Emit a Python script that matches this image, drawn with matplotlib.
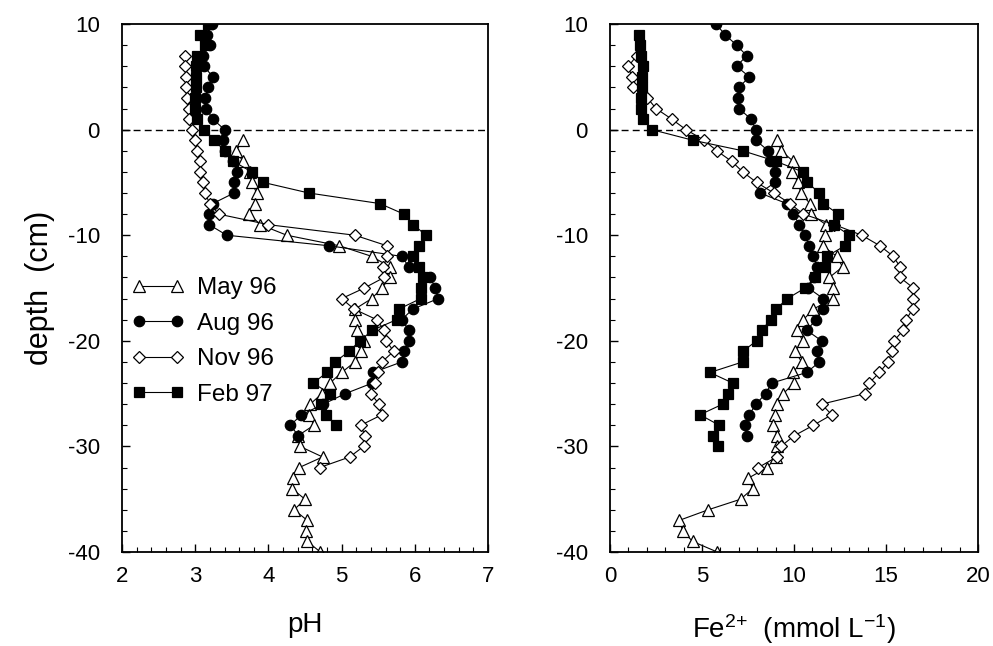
import matplotlib
matplotlib.use("Agg")
import matplotlib.pyplot as plt
from matplotlib.ticker import MultipleLocator

plt.rcParams['font.family'] = ['Liberation Sans', 'DejaVu Sans']
plt.rcParams['mathtext.default'] = 'regular'
plt.rcParams['axes.unicode_minus'] = False

# depth (cm) of each sample, per campaign
depth_may = [-1, -2, -3, -4, -5, -6, -7, -8, -9, -10, -11, -12, -13, -14, -15, -16, -17, -18, -19, -20,
             -21, -22, -23, -24, -25, -26, -27, -28, -29, -30, -31, -32, -33, -34, -35, -36, -37, -38, -39, -40]
depth_aug = [10, 9, 8, 7, 6, 5, 4, 3, 2, 1, 0, -1, -2, -3, -4, -5, -6, -7, -8, -9,
             -10, -11, -12, -13, -14, -15, -16, -17, -18, -19, -20, -21, -22, -23, -24, -25, -26, -27, -28, -29]
depth_nov = [7, 6, 5, 4, 3, 2, 1, 0, -1, -2, -3, -4, -5, -6, -7, -8, -9, -10, -11, -12,
             -13, -14, -15, -16, -17, -18, -19, -20, -21, -22, -23, -24, -25, -26, -27, -28, -29, -30, -31, -32]
depth_feb_ph = [10, 9, 8, 7, 6, 5, 4, 3, 2, 1, 0, -1, -2, -3, -4, -5, -6, -7, -8, -9,
                -10, -11, -12, -13, -14, -15, -16, -17, -18, -19, -20, -21, -22, -23, -24, -25, -26, -27, -28]
depth_feb_fe = [9, 8, 7, 6, 5, 4, 3, 2, 1, 0, -1, -2, -3, -4, -5, -6, -7, -8, -9, -10,
                -11, -12, -13, -14, -15, -16, -17, -18, -19, -20, -21, -22, -23, -24, -25, -26, -27, -28, -29, -30]

# pH
ph_may = [3.65, 3.56, 3.65, 3.75, 3.77, 3.84, 3.82, 3.74, 3.89, 4.25, 4.97, 5.41, 5.66, 5.66, 5.55, 5.41,
          5.18, 5.18, 5.21, 5.30, 5.27, 5.18, 5.00, 4.84, 4.73, 4.57, 4.56, 4.62, 4.40, 4.43, 4.74, 4.42,
          4.33, 4.32, 4.50, 4.35, 4.53, 4.51, 4.53, 4.71]
ph_aug = [3.23, 3.16, 3.20, 3.11, 3.12, 3.24, 3.18, 3.13, 3.15, 3.24, 3.40, 3.38, 3.41, 3.52, 3.57, 3.53,
          3.53, 3.24, 3.19, 3.19, 3.43, 4.83, 5.82, 5.92, 6.21, 6.28, 6.32, 5.97, 5.82, 5.92, 5.92, 5.85,
          5.82, 5.43, 5.42, 5.05, 4.75, 4.45, 4.30, 4.41]
ph_nov = [2.86, 2.86, 2.88, 2.87, 2.89, 2.91, 2.92, 2.95, 3.00, 3.03, 3.06, 3.07, 3.10, 3.13, 3.20, 3.32,
          4.00, 5.18, 5.62, 5.62, 5.57, 5.58, 5.31, 5.00, 5.17, 5.48, 5.58, 5.61, 5.71, 5.55, 5.50, 5.45,
          5.40, 5.51, 5.55, 5.26, 5.32, 5.30, 5.11, 4.70]
ph_feb = [3.17, 3.07, 3.13, 3.03, 3.01, 3.01, 3.01, 3.00, 3.00, 3.02, 3.12, 3.26, 3.40, 3.52, 3.77, 3.93,
          4.55, 5.52, 5.85, 5.98, 6.15, 6.06, 5.98, 6.05, 6.11, 6.09, 6.08, 5.78, 5.75, 5.42, 5.25, 5.10,
          4.91, 4.80, 4.61, 4.84, 4.72, 4.79, 4.92]

# Fe2+ (mmol/L)
fe_may = [9.09, 9.30, 9.96, 9.87, 10.24, 10.36, 10.87, 10.91, 11.74, 11.68, 11.56, 12.32, 12.64, 11.92,
          12.14, 12.10, 11.05, 10.51, 10.18, 10.47, 10.05, 10.42, 9.93, 10.00, 9.42, 9.09, 8.97, 8.88,
          9.09, 9.09, 9.02, 8.55, 7.52, 7.75, 7.10, 5.34, 3.77, 3.95, 4.49, 5.83]
fe_aug = [5.76, 6.25, 6.88, 7.43, 6.88, 7.57, 7.01, 6.97, 7.01, 7.66, 7.92, 7.92, 8.60, 8.70, 8.97, 8.97,
          8.15, 9.60, 9.96, 10.29, 10.60, 10.83, 11.05, 11.27, 11.09, 10.78, 11.59, 11.59, 11.20, 10.69,
          11.50, 11.23, 11.38, 10.69, 8.79, 8.46, 7.93, 7.57, 7.34, 7.43]
fe_nov = [1.45, 1.00, 1.18, 1.27, 2.03, 2.50, 3.35, 4.13, 5.11, 5.80, 6.61, 7.21, 7.97, 8.90, 9.78, 10.51,
          12.20, 13.68, 14.67, 15.40, 15.76, 15.76, 16.49, 16.45, 16.45, 16.09, 15.94, 15.43, 15.30, 15.13,
          14.64, 14.09, 13.86, 11.50, 12.05, 11.05, 10.00, 9.28, 9.06, 8.06]
fe_feb = [1.59, 1.63, 1.67, 1.78, 1.72, 1.72, 1.67, 1.67, 1.78, 2.27, 4.49, 7.21, 9.02, 10.47, 10.72, 11.38,
          11.59, 12.41, 12.17, 13.01, 12.77, 11.78, 11.68, 11.14, 10.60, 9.64, 9.02, 8.73, 8.24, 7.97,
          7.21, 7.21, 5.43, 6.67, 6.43, 6.12, 4.89, 5.94, 5.58, 5.89]

labels = ['May 96', 'Aug 96', 'Nov 96', 'Feb 97']

open_tri = dict(marker='^', ms=8.5, mfc='white', mec='black', mew=0.9)
filled_circ = dict(marker='o', ms=7.5, mfc='black', mec='black', mew=0.9)
open_dia = dict(marker='D', ms=6, mfc='white', mec='black', mew=0.9)
filled_sq = dict(marker='s', ms=7, mfc='black', mec='black', mew=0.9)
line = dict(color='black', lw=0.8)

fig = plt.figure(figsize=(9.93, 6.46), dpi=100)
ax1 = fig.add_axes([0.1229, 0.1455, 0.3686, 0.8173])
ax2 = fig.add_axes([0.6143, 0.1455, 0.3706, 0.8173])

ax1.plot(ph_may, depth_may, label=labels[0], **line, **open_tri)
ax1.plot(ph_aug, depth_aug, label=labels[1], **line, **filled_circ)
ax1.plot(ph_nov, depth_nov, label=labels[2], **line, **open_dia)
ax1.plot(ph_feb, depth_feb_ph, label=labels[3], **line, **filled_sq)

ax2.plot(fe_may, depth_may, **line, **open_tri)
ax2.plot(fe_aug, depth_aug, **line, **filled_circ)
ax2.plot(fe_nov, depth_nov, **line, **open_dia)
ax2.plot(fe_feb, depth_feb_fe, **line, **filled_sq)

for ax in (ax1, ax2):
    ax.axhline(0, color='black', lw=1, dashes=(5, 3), zorder=0)
    ax.set_ylim(-40, 10)
    ax.yaxis.set_major_locator(MultipleLocator(10))
    ax.yaxis.set_minor_locator(MultipleLocator(2))
    ax.tick_params(which='both', direction='in', top=False, right=False, labelsize=16)
    ax.tick_params(axis='x', which='major', pad=10)
    ax.tick_params(axis='y', which='major', pad=16)
    ax.tick_params(which='major', length=6, width=1)
    ax.tick_params(which='minor', length=3.5, width=0.8)
    for s in ax.spines.values():
        s.set_linewidth(1.3)

ax1.set_xlim(2, 7)
ax1.xaxis.set_major_locator(MultipleLocator(1))
ax1.xaxis.set_minor_locator(MultipleLocator(0.2))
ax2.set_xlim(0, 20)
ax2.xaxis.set_major_locator(MultipleLocator(5))
ax2.xaxis.set_minor_locator(MultipleLocator(1))

ax1.set_xlabel('pH', fontsize=20, labelpad=18)
ax2.set_xlabel('Fe$^{2{+}}$  (mmol L$^{-1}$)', fontsize=20, labelpad=18)
fig.text(0.04, 0.554, 'depth  (cm)', fontsize=22, rotation=90, ha='center', va='center')

ax1.legend(loc='upper left', bbox_to_anchor=(0.026, 0.52), frameon=False, fontsize=17.5,
           numpoints=2, handlelength=2.17, handletextpad=0.52, labelspacing=0.55,
           borderpad=0, borderaxespad=0)

fig.savefig('out.png', dpi=100)
